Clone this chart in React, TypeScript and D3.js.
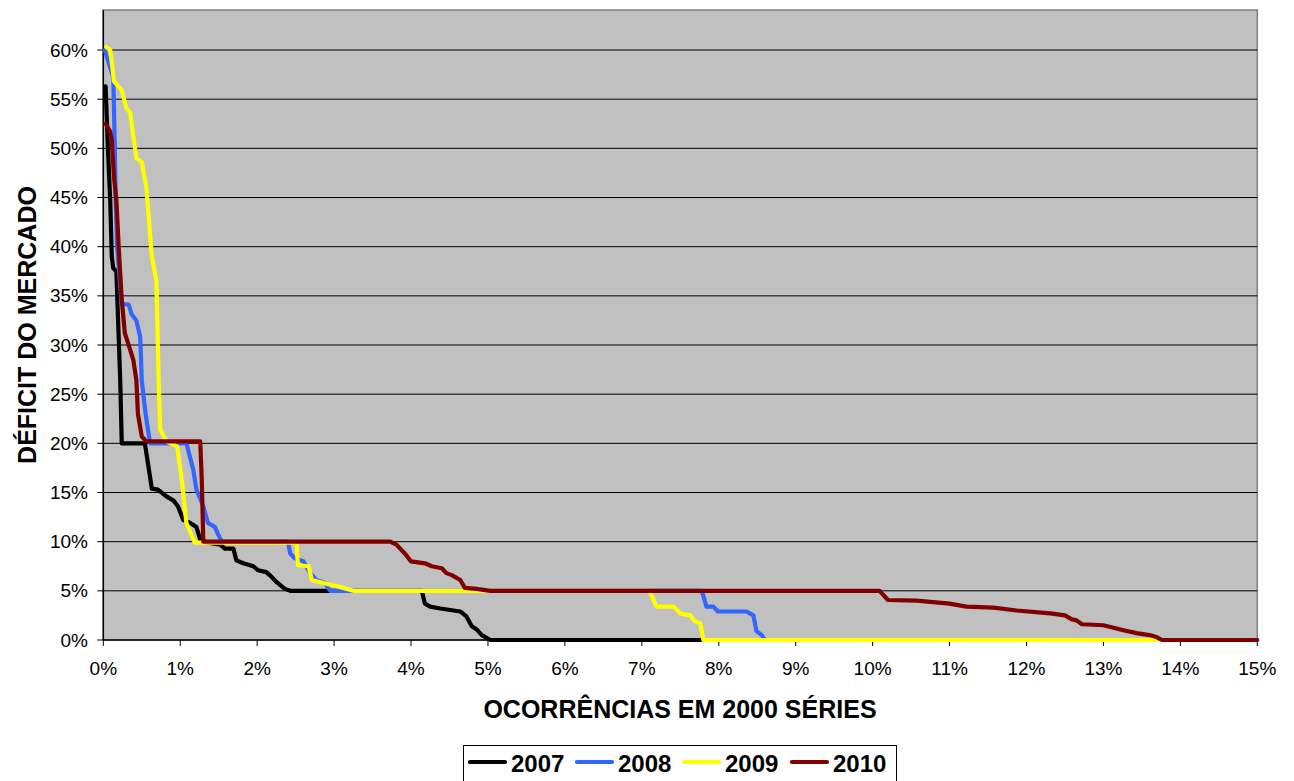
import React from "react";
import * as d3 from "d3";

const xTicks = [0, 1, 2, 3, 4, 5, 6, 7, 8, 9, 10, 11, 12, 13, 14, 15];
const yTicks = [0, 5, 10, 15, 20, 25, 30, 35, 40, 45, 50, 55, 60];

const seriesNames = ["2007", "2008", "2009", "2010"];
const seriesColors = ["#000000", "#3366FF", "#FFFF00", "#800000"];

const x2007 = [0.03, 0.06, 0.09, 0.11, 0.13, 0.17, 0.19, 0.22, 0.24, 0.54, 0.58, 0.63, 0.71, 0.82, 0.91, 0.97, 1.04, 1.13, 1.21, 1.26, 1.36, 1.52, 1.58, 1.69, 1.73, 1.82, 1.95, 2.01, 2.12, 2.19, 2.25, 2.36, 2.43, 4.14, 4.18, 4.25, 4.38, 4.51, 4.64, 4.72, 4.79, 4.85, 4.92, 5.03, 7.8];
const y2007 = [56.3, 50, 44.7, 39, 37.8, 37.5, 33, 26.4, 20, 20, 18, 15.4, 15.3, 14.6, 14.2, 13.6, 12.2, 11.9, 11.5, 10.2, 9.9, 9.7, 9.3, 9.3, 8.1, 7.8, 7.5, 7.1, 6.9, 6.4, 5.9, 5.2, 5.0, 5.0, 3.7, 3.4, 3.2, 3.05, 2.9, 2.4, 1.4, 1.1, 0.5, 0, 0];

const x2008 = [0.02, 0.13, 0.15, 0.16, 0.18, 0.22, 0.24, 0.33, 0.37, 0.43, 0.48, 0.5, 0.55, 0.58, 0.61, 1.08, 1.17, 1.21, 1.3, 1.36, 1.45, 1.49, 1.54, 2.4, 2.43, 2.49, 2.6, 2.69, 2.77, 2.88, 2.95, 7.78, 7.84, 7.93, 7.99, 8.36, 8.45, 8.49, 8.56, 8.6, 9.0];
const y2008 = [60, 57.2, 50, 45, 40, 36, 34.2, 34.1, 33.1, 32.5, 30.8, 26.4, 23, 21.4, 20, 20, 17.3, 15.3, 13.6, 11.9, 11.5, 10.8, 10, 10, 8.8, 8.3, 8.0, 6.8, 6.1, 5.8, 5.0, 5.0, 3.4, 3.4, 2.9, 2.9, 2.5, 0.9, 0.5, 0, 0];

const x2009 = [0.04, 0.09, 0.14, 0.24, 0.3, 0.35, 0.43, 0.5, 0.56, 0.63, 0.69, 0.72, 0.74, 0.82, 0.96, 1.02, 1.08, 1.19, 2.51, 2.53, 2.67, 2.71, 2.86, 3.12, 3.25, 7.1, 7.19, 7.41, 7.5, 7.63, 7.69, 7.76, 7.8, 13.7];
const y2009 = [60.3, 60, 56.8, 55.9, 54.1, 53.6, 49, 48.6, 46, 39, 36.6, 26.4, 21.4, 20.2, 19.7, 16.3, 11.9, 9.9, 9.9, 7.6, 7.5, 6.1, 5.8, 5.3, 5.0, 5.0, 3.4, 3.4, 2.7, 2.5, 1.9, 1.7, 0, 0];

const x2010 = [0.03, 0.09, 0.11, 0.14, 0.17, 0.2, 0.24, 0.28, 0.35, 0.39, 0.43, 0.45, 0.5, 0.56, 1.26, 1.28, 1.3, 3.73, 3.81, 3.92, 4.0, 4.18, 4.27, 4.4, 4.46, 4.53, 4.64, 4.7, 4.85, 5.03, 10.09, 10.2, 10.57, 11.0, 11.22, 11.57, 11.87, 12.31, 12.5, 12.59, 12.65, 12.72, 13.0, 13.13, 13.26, 13.43, 13.6, 13.69, 13.76, 15];
const y2010 = [52.5, 51.7, 50.8, 47, 44.7, 40, 34.6, 31.2, 29.5, 28.5, 26.4, 23, 20.7, 20.2, 20.2, 16.3, 10, 10, 9.7, 8.8, 8.0, 7.8, 7.5, 7.3, 6.8, 6.6, 6.1, 5.3, 5.2, 5.0, 5.0, 4.07, 4.0, 3.7, 3.4, 3.3, 3.0, 2.7, 2.5, 2.1, 2.0, 1.6, 1.5, 1.25, 1.0, 0.7, 0.5, 0.3, 0, 0];

const seriesX = [x2007, x2008, x2009, x2010];
const seriesY = [y2007, y2008, y2009, y2010];

const FONT = "'Liberation Sans', Arial, sans-serif";

export default function App() {
  const left = 103.3, right = 1257.3, top = 10, bottom = 640;
  const x = d3.scaleLinear().domain([0, 15]).range([left, right]);
  const y = d3.scaleLinear().domain([0, 64.07]).range([bottom, top]);
  const line = d3
    .line<[number, number]>()
    .x((d) => x(d[0]))
    .y((d) => y(d[1]));

  const legendStarts = [470, 577, 684, 792];

  return (
    <svg
      width={1294}
      height={781}
      style={{ position: "absolute", left: 0, top: 0, background: "#fff" }}
      fontFamily={FONT}
    >
      <rect x={left} y={top} width={right - left} height={bottom - top} fill="#C0C0C0" stroke="#808080" strokeWidth={1.5} />
      {yTicks.map((t) => (
        <g key={"y" + t}>
          {t > 0 && <line x1={left} x2={right} y1={y(t)} y2={y(t)} stroke="#000" strokeWidth={1} />}
          <line x1={left - 6} x2={left} y1={y(t)} y2={y(t)} stroke="#000" strokeWidth={1} />
          <text x={88} y={y(t)} dy="0.35em" textAnchor="end" fontSize={19} fill="#000">
            {t + "%"}
          </text>
        </g>
      ))}
      {xTicks.map((t) => (
        <g key={"x" + t}>
          <line x1={x(t)} x2={x(t)} y1={bottom} y2={bottom + 6} stroke="#000" strokeWidth={1} />
          <text x={x(t)} y={675} textAnchor="middle" fontSize={19} fill="#000">
            {t + "%"}
          </text>
        </g>
      ))}
      <line x1={left} x2={left} y1={top} y2={bottom} stroke="#000" strokeWidth={1.5} />
      <line x1={left} x2={right} y1={bottom} y2={bottom} stroke="#000" strokeWidth={1.5} />
      {seriesX.map((xs, i) => {
        const pts: [number, number][] = xs.map((v, j) => [v, seriesY[i][j]]);
        return (
          <path
            key={seriesNames[i]}
            d={line(pts) || ""}
            fill="none"
            stroke={seriesColors[i]}
            strokeWidth={4.2}
            strokeLinejoin="round"
            strokeLinecap="round"
          />
        );
      })}
      <text x={680} y={718} textAnchor="middle" fontSize={25} fontWeight="bold" fill="#000">
        OCORRÊNCIAS EM 2000 SÉRIES
      </text>
      <text
        transform={`translate(36,325) rotate(-90)`}
        textAnchor="middle"
        fontSize={25}
        fontWeight="bold"
        fill="#000"
      >
        DÉFICIT DO MERCADO
      </text>
      <rect x={463.5} y={745.5} width={433} height={40} fill="#fff" stroke="#000" strokeWidth={1} />
      {seriesNames.map((n, i) => (
        <g key={"lg" + n}>
          <line
            x1={legendStarts[i]}
            x2={legendStarts[i] + 35}
            y1={762}
            y2={762}
            stroke={seriesColors[i]}
            strokeWidth={4.2}
            strokeLinecap="round"
          />
          <text x={legendStarts[i] + 41} y={772} fontSize={24} fontWeight="bold" fill="#000">
            {n}
          </text>
        </g>
      ))}
    </svg>
  );
}
